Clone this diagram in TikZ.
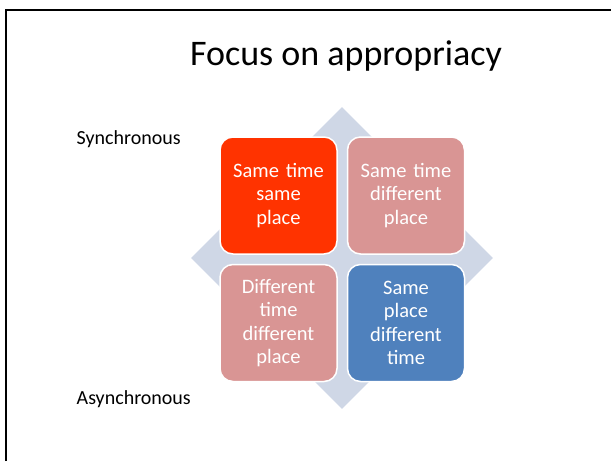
\documentclass[tikz,border=0pt]{standalone}
\usepackage{fontspec}
\setmainfont{Carlito}
\usetikzlibrary{positioning, shapes.geometric}
\definecolor{hotred}{HTML}{FF3300}
\definecolor{dustypink}{HTML}{D99594}
\definecolor{steelblue}{HTML}{4F81BD}
\definecolor{mistblue}{HTML}{CFD7E6}

\begin{document}
\begin{tikzpicture}[x=1pt, y=-1pt,
    cell/.style={draw=white, line width=1.5pt, rounded corners=13pt, minimum width=117pt, minimum height=117pt, inner sep=2pt, text width=110pt, align=center, text=white, font=\fontsize{20.5}{23.3}\selectfont},
    side/.style={anchor=base west, inner sep=0pt, font=\fontsize{20}{24}\selectfont}]
        \useasboundingbox (0,0) rectangle (611,461);
        \draw[line width=2pt] (6,461) -- (6,9.5) -- (611,9.5);

        \node[anchor=base, inner sep=0pt, font=\fontsize{36}{43}\selectfont] (title) at (346,65) {Focus on appropriacy};

        \node[diamond, fill=mistblue, minimum width=302pt, minimum height=302pt, inner sep=0pt] (backdrop) at (342,258) {};

        \node[cell, fill=hotred] (sametime) at (278.5,195.5) {Same time\\same\\place};
        \node[cell, fill=dustypink, right=9pt of sametime] (diffplace) {Same time\\different\\place};
        \node[cell, fill=dustypink, below=9pt of sametime] (diffboth) {Different\\time\\different\\place};
        \node[cell, fill=steelblue, right=9pt of diffboth] (difftime) {Same\\place\\different\\time};

        \node[side] (sync) at (76.5,144) {Synchronous};
        \node[side] (async) at (76.5,404) {Asynchronous};
    \end{tikzpicture}
\end{document}
